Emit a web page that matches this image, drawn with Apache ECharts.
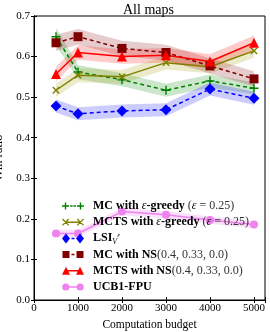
<!DOCTYPE html>
<html><head><meta charset="utf-8">
<script src="https://cdn.jsdelivr.net/npm/echarts@6/dist/echarts.min.js"></script>
<style>html,body{margin:0;padding:0;background:#fff}#c{width:270px;height:332px}</style>
</head><body><div id="c"></div>
<script>
const budgets = [500, 1000, 2000, 3000, 4000, 5000];
const yTicks = [0.0, 0.1, 0.2, 0.3, 0.4, 0.5, 0.6, 0.7];
const xTicks = [0, 1000, 2000, 3000, 4000, 5000];

const mcEps = [0.649, 0.562, 0.543, 0.517, 0.540, 0.522];
const mcEpsErr = [0.022, 0.017, 0.016, 0.016, 0.016, 0.015];
const mctsEps = [0.517, 0.554, 0.550, 0.585, 0.575, 0.614];
const mctsEpsErr = [0.016, 0.017, 0.017, 0.017, 0.017, 0.017];
const lsi = [0.478, 0.459, 0.466, 0.469, 0.520, 0.497];
const lsiErr = [0.016, 0.016, 0.016, 0.016, 0.016, 0.016];
const mcNs = [0.634, 0.649, 0.620, 0.610, 0.577, 0.545];
const mcNsErr = [0.02, 0.019, 0.019, 0.019, 0.019, 0.019];
const mctsNs = [0.557, 0.610, 0.600, 0.603, 0.588, 0.634];
const mctsNsErr = [0.018, 0.018, 0.018, 0.018, 0.018, 0.018];
const ucb = [0.164, 0.164, 0.218, 0.210, 0.197, 0.186];
const ucbErr = [0.009, 0.009, 0.009, 0.009, 0.009, 0.009];

const SERIF = '"Liberation Serif","DejaVu Serif",serif';
const PLUS = 'path://M4.2,0h1.6v10h-1.6zM0,4.2h10v1.6h-10z';

// ---- legend icon path helpers (style only) ----
const f = n => (Math.round(n * 100) / 100);
const R = (x, y, w, h) => `M${f(x)},${f(y)}h${f(w)}v${f(h)}h${f(-w)}z`;
const plusP = (cx, cy, s, t) => R(cx - t / 2, cy - s / 2, t, s) + R(cx - s / 2, cy - t / 2, s, t);
const xP = (cx, cy, h, t) => {
  const d = t / 2 / Math.SQRT2;
  const p = pts => 'M' + pts.map(q => f(cx + q[0]) + ',' + f(cy + q[1])).join('L') + 'z';
  return p([[-h + d, -h - d], [h + d, h - d], [h - d, h + d], [-h - d, -h + d]]) +
         p([[-h - d, h - d], [h - d, -h - d], [h + d, -h + d], [-h + d, h + d]]);
};
const diaP = (cx, cy, w, h) => `M${cx},${cy - h / 2}L${cx + w / 2},${cy}L${cx},${cy + h / 2}L${cx - w / 2},${cy}z`;
const triP = (cx, cy, s) => `M${cx},${cy - s / 2}L${cx + s / 2},${cy + s / 2}L${cx - s / 2},${cy + s / 2}z`;
const cirP = (cx, cy, r) => `M${cx - r},${cy}A${r},${r} 0 1 1 ${cx + r},${cy}A${r},${r} 0 1 1 ${cx - r},${cy}z`;
const BOX = 'M0,0M22,10';
const LT = 1.5, LY = 5 - LT / 2;
const icons = {
  mcEps: 'path://' + BOX + plusP(3.5, 5, 7, 1.4) + plusP(18.5, 5, 7, 1.4) + R(8.2, LY, 2.4, LT) + R(11.4, LY, 2.4, LT),
  mctsEps: 'path://' + BOX + xP(3.5, 5, 3.2, 1.3) + xP(18.5, 5, 3.2, 1.3) + R(4, LY, 14, LT),
  lsi: 'path://' + BOX + diaP(4, 5, 8, 10) + diaP(18, 5, 8, 10) + R(9.5, LY, 3, LT),
  mcNs: 'path://' + BOX + R(0.5, 1.5, 7, 7) + R(14.5, 1.5, 7, 7) + R(9.5, LY, 3, LT),
  mctsNs: 'path://' + BOX + triP(4, 5, 8) + triP(18, 5, 8) + R(4, LY, 14, LT),
  ucb: 'path://' + BOX + cirP(3.8, 5, 3.6) + cirP(18.2, 5, 3.6) + R(4, LY, 14, LT)
};

function band(name, vals, err, color, alpha) {
  return {
    type: 'custom', name: name + '_band', silent: true, z: 1,
    data: budgets.map((x, i) => [x, vals[i] - err[i], vals[i] + err[i]]),
    encode: { x: 0, y: [1, 2] },
    renderItem: function (params, api) {
      if (params.dataIndex !== 0) return null;
      const up = [], dn = [];
      for (let i = 0; i < budgets.length; i++) {
        up.push(api.coord([budgets[i], vals[i] + err[i]]));
        dn.unshift(api.coord([budgets[i], vals[i] - err[i]]));
      }
      return { type: 'polygon', shape: { points: up.concat(dn) },
        style: { fill: color, opacity: alpha } };
    }
  };
}
function line(name, vals, color, dashed, symbol, size, rot) {
  return {
    type: 'line', name: name, z: 3,
    data: budgets.map((x, i) => [x, vals[i]]),
    lineStyle: { color: color, width: 1.5, type: dashed ? [4, 3] : 'solid' },
    itemStyle: { color: color },
    symbol: symbol, symbolSize: size, symbolRotate: rot || 0,
    showAllSymbol: true
  };
}

const series = [
  band('mcEps', mcEps, mcEpsErr, '#008000', 0.2),
  band('mctsEps', mctsEps, mctsEpsErr, '#9a9a00', 0.2),
  band('lsi', lsi, lsiErr, '#0000ff', 0.2),
  band('mcNs', mcNs, mcNsErr, '#800000', 0.2),
  band('mctsNs', mctsNs, mctsNsErr, '#ff0000', 0.2),
  band('ucb', ucb, ucbErr, '#ee82ee', 0.25),
  line('MC with ε-greedy', mcEps, '#008000', true, PLUS, 9),
  line('MCTS with ε-greedy', mctsEps, '#808000', false, PLUS, 9, 45),
  line('LSI', lsi, '#0000ff', true, 'diamond', 11),
  line('MC with NS', mcNs, '#800000', true, 'rect', 9),
  line('MCTS with NS', mctsNs, '#ff0000', false, 'triangle', 10),
  line('UCB1-FPU', ucb, '#ee82ee', false, 'circle', 8)
];

const legendText = {
  'MC with ε-greedy': '{b|MC with }{i|ε}{b|-greedy }{n|(}{i|ε}{n| = 0.25)}',
  'MCTS with ε-greedy': '{b|MCTS with }{i|ε}{b|-greedy }{n|(}{i|ε}{n| = 0.25)}',
  'LSI': '{b|LSI}{s|V}{e|ε}',
  'MC with NS': '{b|MC with NS}{n|(0.4, 0.33, 0.0)}',
  'MCTS with NS': '{b|MCTS with NS}{n|(0.4, 0.33, 0.0)}',
  'UCB1-FPU': '{b|UCB1-FPU}'
};

const FS = 12, LH = 14;
const chart = echarts.init(document.getElementById('c'), null, { renderer: 'canvas' });
chart.setOption({
  animation: false,
  backgroundColor: '#fff',
  title: { text: 'All maps', left: 118, top: -2,
    textStyle: { fontFamily: SERIF, fontSize: 14, fontWeight: 'normal', color: '#000' } },
  grid: { left: 34, right: 5, top: 16, bottom: 32, show: true, borderColor: '#000', borderWidth: 1,
    outerBoundsMode: 'none', containLabel: false },
  legend: {
    orient: 'vertical', left: 57, top: 194, itemGap: 2.2, itemWidth: 22, itemHeight: 10,
    data: [
      { name: 'MC with ε-greedy', icon: icons.mcEps },
      { name: 'MCTS with ε-greedy', icon: icons.mctsEps },
      { name: 'LSI', icon: icons.lsi },
      { name: 'MC with NS', icon: icons.mcNs },
      { name: 'MCTS with NS', icon: icons.mctsNs },
      { name: 'UCB1-FPU', icon: icons.ucb }
    ],
    formatter: n => legendText[n],
    textStyle: {
      fontFamily: SERIF, fontSize: FS, color: '#000', padding: [0, 0, 0, 4], lineHeight: LH,
      rich: {
        b: { fontFamily: SERIF, fontSize: FS, fontWeight: 'bold', color: '#000', lineHeight: LH },
        n: { fontFamily: SERIF, fontSize: FS, color: '#333', lineHeight: LH },
        i: { fontFamily: SERIF, fontSize: FS, fontStyle: 'italic', color: '#000', lineHeight: LH },
        s: { fontFamily: SERIF, fontSize: 8, fontStyle: 'italic', color: '#000', lineHeight: LH, padding: [6, 0, 0, 0] },
        e: { fontFamily: SERIF, fontSize: 7, fontStyle: 'italic', color: '#000', lineHeight: LH, padding: [0, 0, 6, 0] }
      }
    }
  },
  xAxis: [{
    type: 'value', min: 0, max: 5250, interval: 1000,
    name: 'Computation budget', nameLocation: 'middle', nameGap: 17,
    nameTextStyle: { fontFamily: SERIF, fontSize: 11.5, color: '#000' },
    axisLine: { show: true, lineStyle: { color: '#000' } },
    axisTick: { inside: true, length: 3, lineStyle: { color: '#000' } },
    axisLabel: { fontFamily: SERIF, fontSize: 11, color: '#000', margin: 3,
      formatter: v => xTicks.indexOf(v) >= 0 ? String(v) : '' },
    splitLine: { show: false }
  }, {
    type: 'value', min: 0, max: 5250, interval: 1000, position: 'top',
    axisLine: { show: true, lineStyle: { color: '#000' } },
    axisTick: { inside: true, length: 3, lineStyle: { color: '#000' } },
    axisLabel: { show: false }, splitLine: { show: false }
  }],
  yAxis: [{
    type: 'value', min: 0, max: 0.7, interval: 0.1,
    name: 'Win ratio', nameLocation: 'middle', nameGap: 26,
    nameTextStyle: { fontFamily: SERIF, fontSize: 12.5, color: '#000' },
    axisLine: { show: true, lineStyle: { color: '#000' } },
    axisTick: { inside: true, length: 3, lineStyle: { color: '#000' } },
    axisLabel: { fontFamily: SERIF, fontSize: 11, color: '#000', margin: 4,
      formatter: v => {
        const t = yTicks.find(k => Math.abs(k - v) < 1e-6);
        return t === undefined ? '' : t.toFixed(1);
      } },
    splitLine: { show: false }
  }, {
    type: 'value', min: 0, max: 0.7, interval: 0.1, position: 'right',
    axisLine: { show: true, lineStyle: { color: '#000' } },
    axisTick: { inside: true, length: 3, lineStyle: { color: '#000' } },
    axisLabel: { show: false }, splitLine: { show: false }
  }],
  series: series
});
</script></body></html>
